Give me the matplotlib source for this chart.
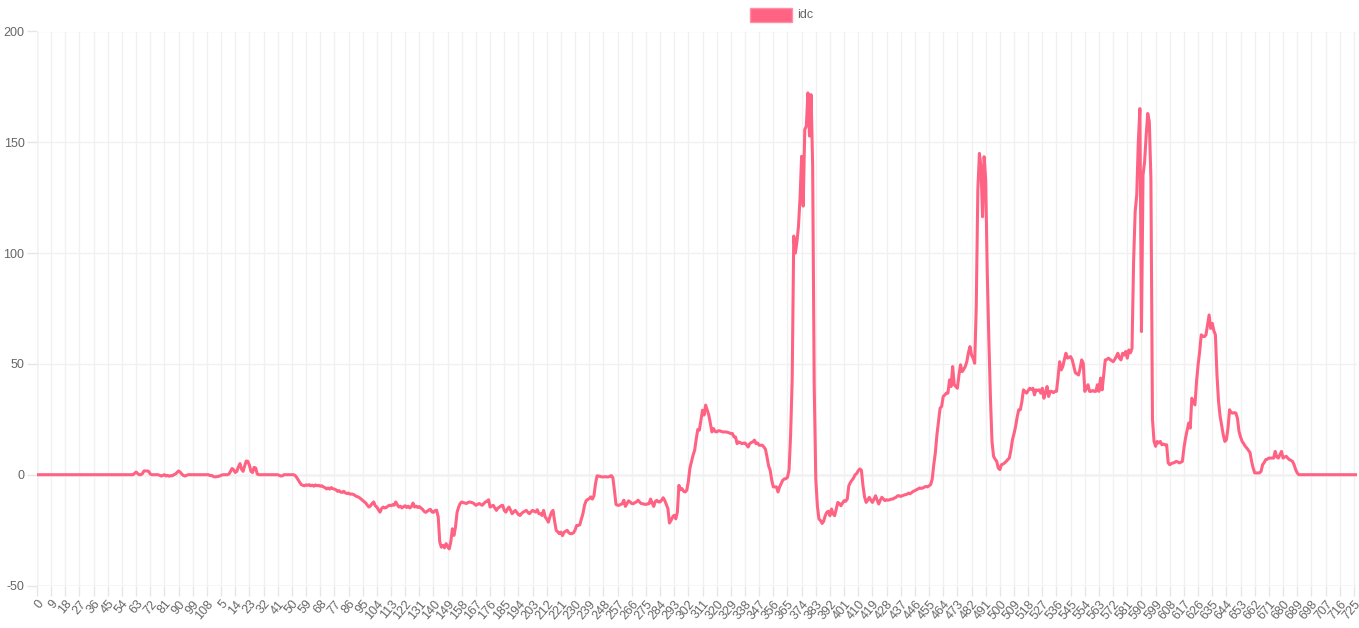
import matplotlib
matplotlib.use("Agg")
import matplotlib.pyplot as plt
from matplotlib.patches import Rectangle
from matplotlib.transforms import ScaledTranslation

plt.rcParams["font.family"] = ["Liberation Sans", "DejaVu Sans"]

# labels restart at 0 after the first 112 samples
labels = [str(i) for i in range(112)] + [str(i) for i in range(728)]

idc = [
    0, 0, 0, 0, 0, 0, 0, 0, 0, 0, 0, 0, 0, 0, 0, 0, 0, 0, 0, 0,
    0, 0, 0, 0, 0, 0, 0, 0, 0, 0, 0, 0, 0, 0, 0, 0, 0, 0, 0, 0,
    0, 0, 0, 0, 0, 0, 0, 0, 0, 0, 0, 0, 0, 0, 0, 0, 0, 0, 0, 0,
    0, 0, 0.6, 1.2, 0.5, 0, 0, 0.5, 1.7, 1.7, 1.7, 1.5, 0.3, 0, 0, 0, 0, 0, -0.3, -0.6,
    -0.3, 0, -0.6, -0.3, -0.7, -0.4, -0.5, 0, 0.3, 1, 1.7, 1.2, 0.3, -0.3, -0.6, -0.3, 0, 0, 0, 0,
    0, 0, 0, 0, 0, 0, 0, 0, 0, 0, -0.4, -0.3, -0.8, -1, -0.9, -0.8, -0.6, -0.3, 0, 0,
    0, 0, 0.3, 1.5, 2.8, 2.2, 1, 1.5, 3.5, 5, 2.5, 1.5, 4, 6.2, 6, 4.3, 1.5, 1, 3.3, 3,
    0.3, 0, 0, 0, 0, 0, 0, 0, 0, 0, 0, 0, 0, 0, -0.3, -0.6, -0.5, 0, 0, 0,
    0, 0, 0, 0, -0.3, -1.2, -2.3, -3.5, -4.5, -4.8, -5, -4.6, -4.8, -4.5, -5, -4.7, -5.2, -4.6, -5, -4.8,
    -5.2, -5, -5.5, -5.8, -6.4, -6, -6.5, -5.8, -6.3, -6.5, -6.8, -7.5, -7.2, -7.8, -8, -7.5, -8.2, -8.5, -8.3, -8.8,
    -8.7, -8.9, -9.3, -9.8, -10, -10.4, -11, -11.6, -12.2, -12.8, -13.8, -14.6, -14, -13, -12.3, -14, -14.6, -15.8, -16.9, -15.3,
    -14.6, -15, -14.8, -14.2, -13.8, -14, -13.5, -13.8, -12.3, -13.5, -14.6, -14.2, -15, -14.4, -14, -14.8, -14.2, -15, -14.4, -12.8,
    -14.6, -14.2, -14.8, -14.4, -15, -15.6, -16.5, -17, -16.5, -16, -15.6, -16.8, -17, -16.2, -16, -19, -30.4, -32.7, -31.9, -33,
    -31.1, -32.4, -33.5, -30.4, -24.4, -27.4, -23.6, -17, -14.6, -13, -12.3, -12.6, -12.8, -13, -12.5, -12.3, -12.5, -12.7, -13.2, -13.8,
    -13.4, -13, -13.4, -13.8, -13, -12.3, -12, -11.3, -14.6, -14.2, -13.8, -15, -16.1, -15, -14.6, -14, -13.8, -16.1, -16.9, -15.5,
    -14.6, -16, -17.6, -16.8, -16.1, -17, -18, -18.4, -17.5, -16.9, -16.5, -16.1, -17, -17.6, -16.8, -16.1, -16.5, -16.9, -15.8, -17.6,
    -17.6, -18.4, -16.1, -19.1, -20, -21.4, -19, -17, -16.1, -21, -25.1, -25.8, -26.6, -25.9, -27.5, -26, -25.5, -25.1, -26.2, -26.6,
    -26.6, -26.2, -25, -22.9, -22.9, -22.6, -20, -17.6, -13.8, -11.8, -11.2, -10.8, -10, -11, -9.5, -4, -0.5, -0.6, -0.8, -1,
    -1, -0.9, -1, -1, -0.8, -0.4, -1.3, -7, -13.4, -13.8, -13.8, -13.4, -13.1, -11.5, -14.3, -13, -11.8, -12.3, -13, -13.1,
    -12.6, -12.3, -11.5, -12.3, -13, -13.1, -13.3, -13.4, -13.2, -13.1, -11, -12.8, -14.3, -12, -11.6, -12.3, -12.3, -11.5, -10.4, -11.6,
    -13.5, -15.3, -21.8, -20.6, -19.1, -18.3, -19.9, -17, -4.8, -6.8, -6.3, -7.5, -7.8, -7, -3, 3, 5.8, 8.8, 11, 16,
    20.4, 20.1, 24.6, 29.1, 26.9, 31.4, 29.1, 26.9, 23.1, 19.3, 20.8, 19.5, 19.3, 19.8, 19.8, 19.5, 19.3, 19.3, 19.3, 19.1,
    18.9, 18.5, 18.6, 17.1, 17, 14, 14.8, 14.5, 14, 14.2, 14.3, 13.5, 12.5, 14, 14.5, 14.8, 15.6, 14, 14.3, 13.3,
    13.3, 13.3, 12.5, 11.5, 8, 4, 2, -2.5, -5.5, -5.5, -5.5, -7.8, -5.5, -4, -2.5, -1.9, -1.8, -1.2, 2, 18,
    43, 107.7, 100, 105, 112.2, 125, 143.7, 121.2, 155.8, 157.3, 172.3, 152.8, 171.5, 140, 40, -2, -14, -20, -20.7, -22,
    -21, -18.5, -17, -16.5, -18.5, -15.5, -17.7, -18.5, -15.5, -12.5, -13, -14, -12.8, -11.7, -12, -11, -5, -3.5, -2.5, -1.5,
    0, 0.5, 1.8, 2.6, 2, -5, -10, -12.5, -11.5, -10.2, -11.5, -12.5, -11, -9.5, -11.5, -13.2, -11.5, -10.2, -11, -11.7,
    -11.3, -11.5, -11.3, -11, -11, -10.5, -10.2, -9.5, -9.5, -9.8, -9.5, -9.2, -9, -8.8, -8.3, -8.6, -8, -7.5, -7.2, -6.8,
    -6.4, -6, -6.2, -6, -5.6, -5.3, -5.5, -5, -4.5, -2, 4.5, 10, 18, 24, 30, 30.8, 35.3, 36, 36.8, 36.8,
    42.8, 39.8, 48.8, 40.6, 39.8, 39, 45, 49.6, 46.5, 47.5, 48.8, 51, 55, 57.8, 54, 52.6, 50.3, 75.9, 128.4, 145,
    139, 116.4, 143.5, 133, 90.9, 60.8, 35, 15, 8.3, 7, 6, 3, 2.3, 4.5, 4.8, 5.3, 6, 6.8, 7.5, 11,
    15.8, 18.5, 21.8, 26, 29.3, 29.3, 33, 38.3, 37.5, 36.8, 38, 39, 38.5, 39, 36, 38.3, 38, 38.3, 36.8, 39,
    34.5, 37, 39.8, 35.3, 37.6, 37.6, 37, 37.6, 37.6, 44, 51, 47.3, 48.8, 52, 54.8, 52.6, 53, 53.3, 51.8, 49,
    46, 45.5, 45, 48, 51.8, 50.3, 37.6, 39, 40.6, 37.6, 37.6, 38, 37.6, 37.6, 40.6, 37.6, 43.6, 38.3, 45, 51.8,
    52, 52.6, 52, 51.5, 51, 52, 53.3, 54.8, 52.6, 51.8, 54.8, 54, 55.6, 52.6, 56.3, 55, 57, 96, 118.7, 126.2,
    150, 165.2, 64.6, 135.2, 141.2, 153.2, 163, 159.2, 133.7, 25, 15, 12.8, 15, 14.3, 15, 13.5, 13.8, 13.5, 13.5, 5.3,
    4.5, 5, 5.3, 5.5, 6, 5.8, 5.3, 5.6, 6, 12, 16.5, 20, 23.3, 21, 34.5, 33, 31.5, 42, 49.6, 55.6,
    63.1, 62.5, 62.3, 63.1, 67.6, 72.1, 66, 68.3, 65, 63.1, 45, 33, 26.3, 22, 18, 15, 15.8, 21, 29.3, 28,
    27.8, 28, 27.8, 25.5, 19.5, 17, 15, 14, 12.8, 12, 11, 10, 6, 3, 0.8, 0.8, 0.8, 0.8, 1.5, 4.5,
    5.5, 6.8, 7, 7.5, 7.5, 7.5, 7.5, 10.5, 8, 7.5, 9, 10.5, 7.5, 8, 8.3, 7.5, 6.8, 6.5, 6, 4.5,
    2.3, 0.8, 0, 0, 0, 0, 0, 0, 0, 0, 0, 0, 0, 0, 0, 0, 0, 0, 0, 0,
    0, 0, 0, 0, 0, 0, 0, 0, 0, 0, 0, 0, 0, 0, 0, 0, 0, 0, 0, 0,
]

y_ticks = [-50, 0, 50, 100, 150, 200]
line_color = "#ff6384"
grid_color = "#f1f1f1"
text_color = "#666666"

fig = plt.figure(figsize=(13.59, 6.28), dpi=100)
ax = fig.add_axes([37 / 1359, 1 - 585.5 / 628, 1320 / 1359, 554 / 628])

x = list(range(len(idc)))
ax.plot(x, idc, color=line_color, lw=2.2, solid_joinstyle="round", zorder=3)

ax.set_xlim(0, len(idc) - 1)
ax.set_ylim(-50, 200)

tick_pos = list(range(0, len(idc), 9))
ax.set_xticks(tick_pos)
ax.set_xticklabels([labels[i] for i in tick_pos], rotation=50, ha="right",
                   va="top", rotation_mode="anchor", fontsize=9, color=text_color)
shift = ScaledTranslation(-4 / 100, 0, fig.dpi_scale_trans)
for t in ax.get_xticklabels():
    t.set_transform(t.get_transform() + shift)
ax.set_yticks(y_ticks)
ax.set_yticklabels([str(v) for v in y_ticks], fontsize=9, color=text_color)

ax.tick_params(axis="both", length=7, width=1, color="#e6e6e6", pad=2)
ax.grid(True, color=grid_color, lw=1, zorder=0)
ax.axhline(0, color="#d6d6d6", lw=1, zorder=1)
for s in ax.spines.values():
    s.set_visible(False)
ax.axvline(0, color="#e0e0e0", lw=1, zorder=1)
ax.axhline(-50, color="#e0e0e0", lw=1, zorder=1)

# legend drawn like the chart's legend box
fig.patches.append(Rectangle((750 / 1359, 1 - 22 / 628), 42 / 1359, 14 / 628,
                             transform=fig.transFigure, facecolor=line_color,
                             edgecolor="#ff8fa6", lw=1))
fig.text(797 / 1359, 1 - 15 / 628, "idc", fontsize=9, color=text_color,
         ha="left", va="center")

fig.savefig("out.png", dpi=100)
